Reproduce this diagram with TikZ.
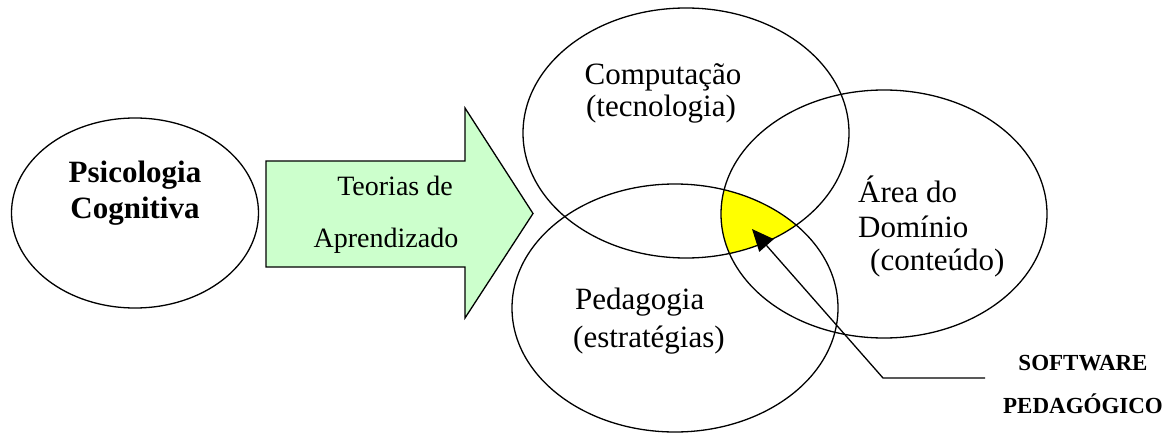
\documentclass[tikz,border=0pt]{standalone}
\usepackage{fontspec}
\setmainfont{Liberation Serif}
\usetikzlibrary{shapes.geometric,arrows.meta}
\definecolor{arrowgreen}{HTML}{CCFFCC}
\definecolor{hilite}{HTML}{FFFF00}
\begin{document}
\begin{tikzpicture}[x=1pt,y=-1pt,
  bubble/.style={draw, ellipse, line width=1.3pt, inner sep=0pt, outer sep=0pt},
  lbl/.style={anchor=base, inner sep=0pt, font=\fontsize{31}{31}\selectfont},
  lblw/.style={lbl, anchor=base west},
  boldlbl/.style={lbl, font=\fontsize{31}{31}\selectfont\bfseries},
  arrowlbl/.style={anchor=base, inner sep=0pt, font=\fontsize{28}{28}\selectfont},
  swlbl/.style={anchor=base, inner sep=0pt, font=\fontsize{23}{23}\selectfont\bfseries},
  pointer/.style={line width=1.3pt, -{Triangle[length=22pt,width=19pt]}},
  bigarrow/.style={draw, line width=1.3pt, fill=arrowgreen, line join=miter}
]
\useasboundingbox (0,0) rectangle (1169,433);
% centres
\coordinate (cC) at (686,133);
\coordinate (cP) at (675,308);
\coordinate (cD) at (884,214);
% highlighted intersection
\begin{scope}
  \clip (cC) ellipse [x radius=163, y radius=125];
  \clip (cP) ellipse [x radius=163, y radius=124];
  \fill[hilite] (cD) ellipse [x radius=163, y radius=124];
\end{scope}
% ellipses
\node[bubble, minimum width=247pt, minimum height=190pt] (psi) at (135,213) {};
\node[bubble, minimum width=326pt, minimum height=250pt] (comp) at (cC) {};
\node[bubble, minimum width=326pt, minimum height=248pt] (ped) at (cP) {};
\node[bubble, minimum width=326pt, minimum height=248pt] (dom) at (cD) {};
% big arrow
\draw[bigarrow] (266,161) -- (465,161) -- (465,108) -- (533,213.5) -- (465,318) -- (465,267) -- (266,267) -- cycle;
% labels
\node[boldlbl] (psi1) at (135,182) {Psicologia};
\node[boldlbl] (psi2) at (135,218) {Cognitiva};
\node[arrowlbl] (teo1) at (395,195) {Teorias de};
\node[arrowlbl] (teo2) at (386,247) {Aprendizado};
\node[lbl] (comp1) at (663,85) {Computação};
\node[lbl] (comp2) at (661,117) {(tecnologia)};
\node[lblw] (dom1) at (858,202) {Área do};
\node[lblw] (dom2) at (858,237) {Domínio};
\node[lblw] (dom3) at (870,270) {(conteúdo)};
\node[lblw] (ped1) at (575,309) {Pedagogia};
\node[lblw] (ped2) at (573,347) {(estratégias)};
\node[swlbl] (sw1) at (1083,370) {SOFTWARE};
\node[swlbl] (sw2) at (1083,413) {PEDAGÓGICO};
% pointer
\coordinate (pend) at (985,378);
\coordinate (pbend) at (883,378);
\coordinate (ptip) at (752,229);
\draw[pointer] (pend) -- (pbend) -- (ptip);
\end{tikzpicture}
\end{document}
